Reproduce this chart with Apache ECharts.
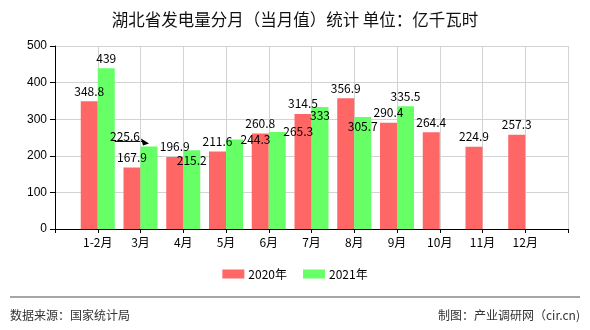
<!DOCTYPE html>
<html>
<head>
<meta charset="utf-8">
<script src="https://cdn.jsdelivr.net/npm/echarts@6/dist/echarts.min.js"></script>
<style>
  html, body { margin: 0; padding: 0; background: #fff; }
  #chart { width: 590px; height: 330px; }
</style>
</head>
<body>
<div id="chart"></div>
<script>
// Monthly power generation, Hubei (100 million kWh)
const months = ['1-2月', '3月', '4月', '5月', '6月', '7月', '8月', '9月', '10月', '11月', '12月'];
const gen2020 = [348.8, 167.9, 196.9, 211.6, 260.8, 314.5, 356.9, 290.4, 264.4, 224.9, 257.3];
const gen2021 = [439, 225.6, 215.2, 244.3, 265.3, 333, 305.7, 335.5];
const yTicks = [0, 100, 200, 300, 400, 500];

// label nudges for the 2021 values so they do not collide with neighbours
const shift2021 = [[0, 0], [-24, 0], [0, 20], [21, 10], [21, 10], [0, 18], [0, 19], [0, 0]];

const BAR_W = 17;
const RED = '#ff6666';
const GREEN = '#66ff66';
const LABEL_FONT = '"Noto Sans CJK SC", sans-serif';

// the axis has an empty slot on each side of the months
const axisCats = [''].concat(months, ['']);
const pad = arr => [null].concat(arr, new Array(axisCats.length - 1 - arr.length).fill(null));

const chart = echarts.init(document.getElementById('chart'));

const labelBase = {
  show: true,
  position: 'top',
  distance: 4,
  color: '#000',
  fontSize: 12,
  fontFamily: LABEL_FONT
};

const data2021 = pad(gen2021).map((v, i) => {
  if (v == null) return null;
  const s = shift2021[i - 1] || [0, 0];
  return { value: v, label: { offset: s } };
});

chart.setOption({
  animation: false,
  title: {
    text: '湖北省发电量分月（当月值）统计 单位：亿千瓦时',
    left: 'center',
    top: 6,
    textStyle: { fontSize: 16.5, fontWeight: 'normal', color: '#111', fontFamily: LABEL_FONT }
  },
  legend: {
    bottom: 45,
    left: 'center',
    itemWidth: 22,
    itemHeight: 9,
    itemGap: 16,
    icon: 'rect',
    textStyle: { fontSize: 12, color: '#000', fontFamily: LABEL_FONT, padding: [0, 0, 0, -1] },
    data: ['2020年', '2021年']
  },
  grid: { left: 55, right: 22, top: 46, bottom: 101, containLabel: false },
  xAxis: {
    type: 'category',
    data: axisCats,
    boundaryGap: false,
    axisLine: { lineStyle: { color: '#000', width: 1 } },
    axisTick: { show: true, length: 4, lineStyle: { color: '#000' }, interval: 0 },
    axisLabel: { interval: 0, color: '#000', fontSize: 12, margin: 7, fontFamily: LABEL_FONT },
    splitLine: { show: true, interval: 0, lineStyle: { color: '#d3d3d3' } }
  },
  yAxis: {
    type: 'value',
    min: yTicks[0],
    max: yTicks[yTicks.length - 1],
    interval: 100,
    axisLine: { show: true, lineStyle: { color: '#000' } },
    axisTick: { show: true, length: 5, lineStyle: { color: '#000' } },
    axisLabel: { color: '#000', fontSize: 12, margin: 8, fontFamily: 'Liberation Sans, Arial, sans-serif' },
    splitLine: { show: true, lineStyle: { color: '#d3d3d3' } }
  },
  series: [
    {
      name: '2020年',
      type: 'bar',
      barWidth: BAR_W,
      barGap: '0%',
      itemStyle: { color: RED },
      label: labelBase,
      data: pad(gen2020)
    },
    {
      name: '2021年',
      type: 'bar',
      barWidth: BAR_W,
      barGap: '0%',
      itemStyle: { color: GREEN },
      label: labelBase,
      data: data2021
    }
  ],
  graphic: [
    { id: 'sep', type: 'line', shape: { x1: 10, y1: 297, x2: 580, y2: 297 }, style: { stroke: '#888', lineWidth: 1.5 } },
    { id: 'src', type: 'text', left: 10, top: 309, style: { text: '数据来源：国家统计局', fontSize: 12, fill: '#333', fontFamily: LABEL_FONT } },
    { id: 'by', type: 'text', right: 10, top: 309, style: { text: '制图：产业调研网（cir.cn)', fontSize: 12, fill: '#333', fontFamily: LABEL_FONT } }
  ]
});

// leader arrow from the shifted 3月 label to the top of its bar
const idx = 1;
const p = chart.convertToPixel({ xAxisIndex: 0, yAxisIndex: 0 }, [months[idx], gen2021[idx]]);
const tipX = p[0] + BAR_W / 2;
const tipY = p[1] - 4;
chart.setOption({
  graphic: [
    { id: 'arrowLine', type: 'line', shape: { x1: tipX - 39, y1: tipY - 1, x2: tipX - 6, y2: tipY - 1 }, style: { stroke: '#000', lineWidth: 1 } },
    { id: 'arrowHead', type: 'polygon', shape: { points: [[tipX, tipY + 1], [tipX - 8, tipY - 4], [tipX - 6, tipY + 3]] }, style: { fill: '#000' } }
  ]
});
</script>
</body>
</html>
